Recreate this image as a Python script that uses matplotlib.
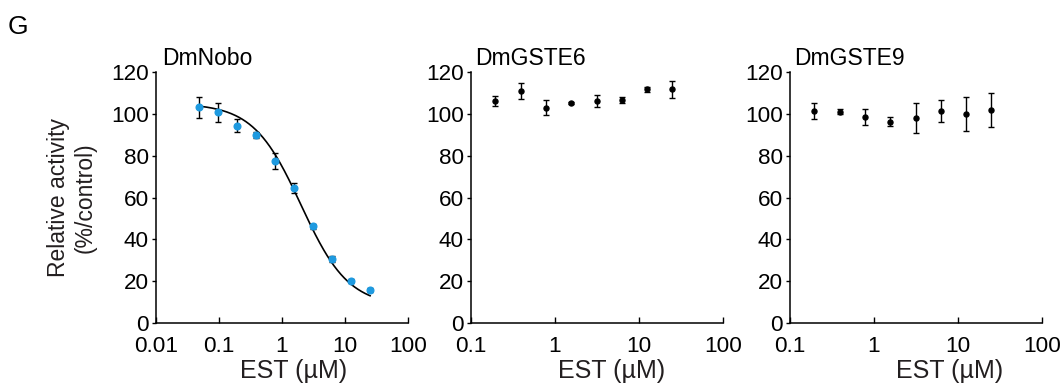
"""Panel G: EST dose-response for DmNobo, DmGSTE6 and DmGSTE9."""

import matplotlib.pyplot as plt
import numpy as np

plt.switch_backend("Agg")
plt.rcParams["font.family"] = ["Liberation Sans", "DejaVu Sans"]

# EST concentrations (uM), two-fold dilution series
conc_nobo = [0.049, 0.098, 0.195, 0.39, 0.78, 1.56, 3.125, 6.25, 12.5, 25.0]
conc_gst = [0.195, 0.39, 0.78, 1.56, 3.125, 6.25, 12.5, 25.0]

# relative activity (% of control) and SD
nobo_mean = [103.1, 100.7, 94.4, 89.8, 77.4, 64.6, 46.2, 30.6, 19.9, 15.6]
nobo_sd = [5.0, 4.7, 3.3, 1.5, 3.8, 2.5, 1.2, 1.5, 1.0, 1.0]
gste6_mean = [106.3, 110.9, 102.9, 105.3, 106.3, 106.6, 111.7, 111.7]
gste6_sd = [2.4, 3.7, 3.5, 0.5, 2.8, 1.3, 1.1, 4.0]
gste9_mean = [101.4, 101.1, 98.4, 96.3, 98.0, 101.4, 99.9, 101.9]
gste9_sd = [4.0, 1.3, 3.7, 2.0, 7.0, 5.1, 8.3, 8.2]

# four-parameter logistic fit for DmNobo
fit_top, fit_bottom, fit_ic50, fit_hill = 105.0, 8.0, 2.0, 1.15

panels = [
    ("DmNobo", conc_nobo, nobo_mean, nobo_sd, "#1e9ae0", (0.01, 100), [0.01, 0.1, 1, 10, 100]),
    ("DmGSTE6", conc_gst, gste6_mean, gste6_sd, "black", (0.1, 100), [0.1, 1, 10, 100]),
    ("DmGSTE9", conc_gst, gste9_mean, gste9_sd, "black", (0.1, 100), [0.1, 1, 10, 100]),
]
lefts = [156, 471, 790]
xlabel_pos = [0.544, 0.556, 0.635]

W, H = 1060, 383
fig = plt.figure(figsize=(W / 100, H / 100), dpi=100)
fig.text(8 / W, 1 - 34 / H, "G", fontsize=19, va="baseline", ha="left")

for i, (name, x, y, sd, color, xlim, xticks) in enumerate(panels):
    ax = fig.add_axes([lefts[i] / W, 60 / H, 252 / W, 251 / H])
    ax.set_xscale("log")
    ax.set_xlim(*xlim)
    ax.set_ylim(0, 120)

    if i == 0:
        xx = np.logspace(np.log10(x[0]), np.log10(x[-1]), 200)
        yy = fit_bottom + (fit_top - fit_bottom) / (1 + (xx / fit_ic50) ** fit_hill)
        ax.plot(xx, yy, color="black", lw=1.2, zorder=2)
        ms = 4.8
    else:
        ms = 3.6
    ax.errorbar(x, y, yerr=sd, fmt="o", color=color, ms=ms, mec=color,
                ecolor="black", elinewidth=1.0, capsize=2.2, capthick=1.0, zorder=3)

    ax.set_xticks(xticks)
    ax.set_xticklabels([f"{t:g}" for t in xticks])
    ax.xaxis.set_minor_locator(plt.NullLocator())
    ax.set_yticks(range(0, 121, 20))
    ax.tick_params(axis="x", direction="in", length=4, width=1.0, pad=9, labelsize=16.2)
    ax.tick_params(axis="y", direction="out", length=3, width=1.0, pad=2, labelsize=16.2)

    for side in ("top", "right"):
        ax.spines[side].set_visible(False)
    for side in ("left", "bottom"):
        ax.spines[side].set_linewidth(1.1)

    ax.text(0.024 if i == 0 else 0.016, 1 + 7 / 251, name, transform=ax.transAxes,
            fontsize=16.5, va="baseline", ha="left")
    ax.set_xlabel("EST (µM)", fontsize=18, color="#231f20")
    ax.xaxis.set_label_coords(xlabel_pos[i], -36 / 251)
    if i == 0:
        ax.set_ylabel("Relative activity\n(%/control)", fontsize=16.5, color="#231f20",
                      linespacing=1.25)
        ax.yaxis.set_label_coords(-59 / 252, 0.5)

fig.savefig("out.png", dpi=100)
